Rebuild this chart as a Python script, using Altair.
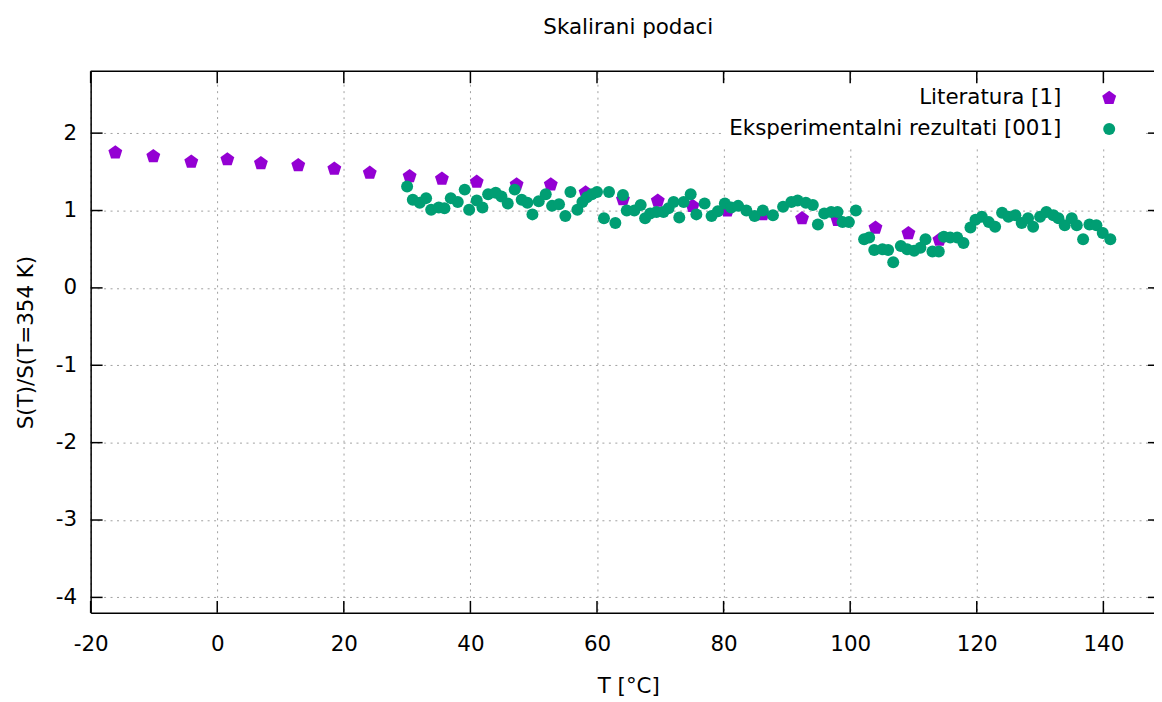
import altair as alt
import pandas as pd

# ---------------- data ----------------
series_names = ["Literatura [1]", "Eksperimentalni rezultati [001]"]

lit_T = [-16.1, -10.1, -4.1, 1.6, 6.9, 12.8, 18.5, 24.1, 30.4, 35.5, 41.0, 47.3,
         52.7, 58.2, 64.1, 69.6, 75.1, 80.6, 86.2, 92.4, 98.0, 104.0, 109.2, 114.1]
lit_S = [1.75, 1.70, 1.63, 1.66, 1.61, 1.585, 1.54, 1.486, 1.443, 1.41, 1.37, 1.336,
         1.336, 1.233, 1.143, 1.125, 1.057, 1.0, 0.95, 0.898, 0.876, 0.777, 0.705, 0.62]

exp_T = [30.0, 30.9, 32.0, 33.0, 33.8, 35.0, 35.9, 36.9, 38.0, 39.1, 39.8, 41.0, 41.9, 42.8,
         44.0, 44.9, 45.9, 47.0, 48.1, 49.0, 49.8, 50.8, 51.9, 52.9, 54.0, 55.0, 55.8, 56.9,
         57.7, 58.4, 59.2, 60.0, 61.1, 61.9, 62.9, 64.1, 64.7, 65.9, 66.9, 67.6, 68.4, 69.4,
         70.5, 71.3, 72.1, 73.0, 73.7, 74.8, 75.7, 77.0, 78.1, 79.1, 80.2, 81.2, 82.3, 83.6,
         84.9, 86.2, 87.8, 89.4, 90.7, 91.7, 93.0, 94.1, 94.9, 95.9, 97.0, 98.0, 98.8, 99.8,
         100.9, 102.2, 103.0, 103.8, 105.1, 106.0, 106.8, 108.0, 109.0, 110.1, 111.1, 111.9,
         113.0, 114.0, 114.8, 115.8, 116.9, 117.9, 119.0, 119.8, 120.8, 121.9, 122.9, 124.0,
         125.0, 126.1, 127.1, 128.1, 128.9, 130.0, 131.0, 132.1, 132.9, 133.9, 135.0, 135.8,
         136.8, 137.8, 138.9, 139.9, 141.1]
exp_S = [1.31, 1.14, 1.10, 1.16, 1.01, 1.04, 1.03, 1.16, 1.11, 1.27, 1.01, 1.13, 1.04, 1.21,
         1.23, 1.18, 1.09, 1.27, 1.14, 1.10, 0.95, 1.12, 1.21, 1.06, 1.08, 0.93, 1.24, 1.01,
         1.11, 1.17, 1.21, 1.24, 0.90, 1.24, 0.84, 1.20, 1.00, 1.00, 1.07, 0.90, 0.96, 0.98,
         0.98, 1.03, 1.11, 0.91, 1.11, 1.21, 0.95, 1.09, 0.93, 0.99, 1.09, 1.04, 1.06, 1.00,
         0.93, 1.00, 0.94, 1.05, 1.11, 1.13, 1.10, 1.07, 0.82, 0.96, 0.98, 0.98, 0.85, 0.85,
         1.00, 0.63, 0.65, 0.49, 0.50, 0.49, 0.33, 0.54, 0.50, 0.48, 0.52, 0.63,
         0.47, 0.47, 0.66, 0.65, 0.65, 0.58, 0.78, 0.88, 0.92, 0.85, 0.79, 0.97,
         0.92, 0.94, 0.84, 0.90, 0.79, 0.92, 0.98, 0.94, 0.90, 0.81, 0.90, 0.81,
         0.63, 0.82, 0.81, 0.71, 0.63]

x_ticks = [-20, 0, 20, 40, 60, 80, 100, 120, 140]
y_ticks = [-4, -3, -2, -1, 0, 1, 2]

title_text = "Skalirani podaci"
x_title = "T [°C]"
y_title = "S(T)/S(T=354 K)"

# ---------------- style ----------------
W, H = 1068, 544
X_DOMAIN = [-20, 148]
Y_DOMAIN = [-4.2, 2.8]
FONT = "DejaVu Sans"
FS = 21.5
PURPLE = "#9400D3"
GREEN = "#009E73"
PENTAGON = "M0,-1L0.951,-0.309L0.588,0.809L-0.588,0.809L-0.951,-0.309Z"
GRID_DASH = [2, 4.5]
GRID_COLOR = "#a0a0a0"
TICK = 12

pts = pd.DataFrame({
    "T": lit_T + exp_T,
    "S": lit_S + exp_S,
    "series": [series_names[0]] * len(lit_T) + [series_names[1]] * len(exp_T),
})
xt = pd.DataFrame({"T": x_ticks})
yt = pd.DataFrame({"S": y_ticks})
one = pd.DataFrame({"k": [0]})

xs = alt.Scale(domain=X_DOMAIN, nice=False, zero=False)
ys = alt.Scale(domain=Y_DOMAIN, nice=False, zero=False)
color_scale = alt.Scale(domain=series_names, range=[PURPLE, GREEN])
shape_scale = alt.Scale(domain=series_names, range=[PENTAGON, "circle"])
size_scale = alt.Scale(domain=series_names, range=[215, 145])

x_axis = alt.Axis(
    values=x_ticks, title=x_title, grid=True, gridColor=GRID_COLOR, gridDash=GRID_DASH,
    gridWidth=1, domainColor="black", domainWidth=1.5, ticks=False,
    labelPadding=32, labelBaseline="middle", labelFont=FONT, labelFontSize=FS,
    labelColor="black", labelExpr="'' + datum.value", labelFlush=False, labelOverlap=False,
    titleFont=FONT, titleFontSize=FS, titleFontWeight="normal", titleColor="black",
    titleX=540, titleY=74, titleBaseline="middle", titleAlign="center",
)
y_axis = alt.Axis(
    values=y_ticks, title=y_title, grid=True, gridColor=GRID_COLOR, gridDash=GRID_DASH,
    gridWidth=1, domainColor="black", domainWidth=1.5, ticks=False,
    labelPadding=14, labelFont=FONT, labelFontSize=FS, labelColor="black",
    labelExpr="'' + datum.value", labelFlush=False, labelOverlap=False,
    titleFont=FONT, titleFontSize=FS, titleFontWeight="normal", titleColor="black",
    titleX=-64, titleY=H / 2, titleAngle=270, titleBaseline="middle", titleAlign="center",
)

# opaque key background (gnuplot "key opaque")
key_bg = alt.Chart(one).mark_rect(color="white").encode(
    x=alt.value(634), x2=alt.value(1059), y=alt.value(10), y2=alt.value(76)
)

points = alt.Chart(pts).mark_point(filled=True, opacity=1, strokeWidth=0).encode(
    x=alt.X("T:Q", scale=xs, axis=x_axis),
    y=alt.Y("S:Q", scale=ys, axis=y_axis),
    color=alt.Color("series:N", scale=color_scale, legend=None),
    shape=alt.Shape("series:N", scale=shape_scale, legend=None),
    size=alt.Size("series:N", scale=size_scale, legend=None),
)

tick_bottom = alt.Chart(xt).mark_rule(color="black", strokeWidth=1.5).encode(
    x=alt.X("T:Q", scale=xs, axis=x_axis), y=alt.value(H), y2=alt.value(H - TICK)
)
tick_top = alt.Chart(xt).mark_rule(color="black", strokeWidth=1.5).encode(
    x=alt.X("T:Q", scale=xs, axis=x_axis), y=alt.value(0), y2=alt.value(TICK)
)
tick_left = alt.Chart(yt).mark_rule(color="black", strokeWidth=1.5).encode(
    y=alt.Y("S:Q", scale=ys, axis=y_axis), x=alt.value(0), x2=alt.value(TICK)
)
# mirrored right-hand ticks (the right border itself lies just outside the picture)
tick_right = alt.Chart(yt).mark_rule(color="black", strokeWidth=1.5).encode(
    y=alt.Y("S:Q", scale=ys, axis=y_axis), x=alt.value(W - 6), x2=alt.value(W)
)
top_border = alt.Chart(one).mark_rule(color="black", strokeWidth=1.5).encode(
    x=alt.value(0), x2=alt.value(W), y=alt.value(0)
)

# key: right-aligned labels with the sample symbol to their right (gnuplot style)
KEY_TEXT_X, KEY_SYM_X, KEY_Y0, KEY_DY = 975, 1023, 27, 31
legend_layers = []
for i, name in enumerate(series_names):
    d = pd.DataFrame({"series": [name]})
    ky = KEY_Y0 + KEY_DY * i
    legend_layers.append(
        alt.Chart(d).mark_text(align="right", baseline="middle", font=FONT, fontSize=FS,
                               color="black").encode(
            text="series:N", x=alt.value(KEY_TEXT_X), y=alt.value(ky))
    )
    legend_layers.append(
        alt.Chart(d).mark_point(filled=True, opacity=1, strokeWidth=0).encode(
            x=alt.value(KEY_SYM_X), y=alt.value(ky),
            color=alt.Color("series:N", scale=color_scale, legend=None),
            shape=alt.Shape("series:N", scale=shape_scale, legend=None),
            size=alt.Size("series:N", scale=size_scale, legend=None),
        )
    )

chart = alt.layer(key_bg, points, tick_bottom, tick_top, tick_left, tick_right, top_border,
                  *legend_layers).properties(
    width=W, height=H,
    title=alt.TitleParams(text=title_text, font=FONT, fontSize=FS, fontWeight="normal",
                          color="black", anchor="middle", offset=32, dx=6),
    autosize=alt.AutoSizeParams(type="none"),
    padding={"left": 83, "top": 62, "right": 0, "bottom": 86},
    background="white",
).configure_view(stroke=None)

chart.save("out.html", embed_options={"renderer": "svg", "actions": False})
